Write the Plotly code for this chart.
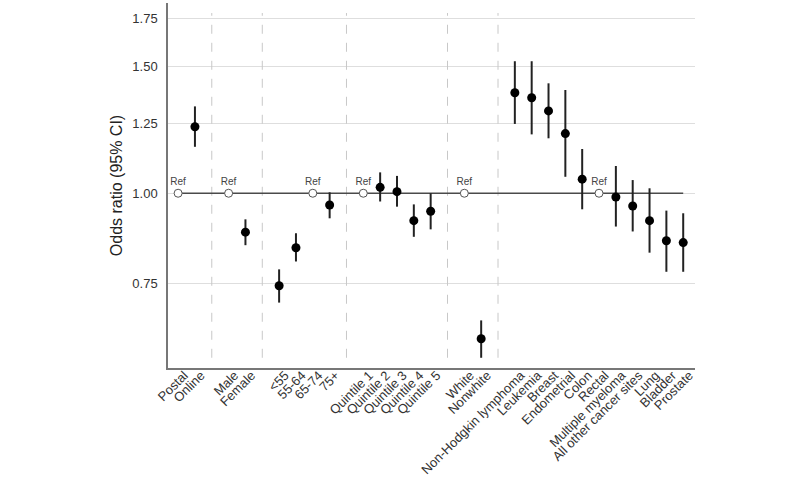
import plotly.graph_objects as go

# Groups of categories (a blank slot separates groups)
groups = [
    ["Postal", "Online"],
    ["Male", "Female"],
    ["<55", "55-64", "65-74", "75+"],
    ["Quintile 1", "Quintile 2", "Quintile 3", "Quintile 4", "Quintile 5"],
    ["White", "Nonwhite"],
    ["Non-Hodgkin lymphoma", "Leukemia", "Breast", "Endometrial", "Colon", "Rectal",
     "Multiple myeloma", "All other cancer sites", "Lung", "Bladder", "Prostate"],
]

ref_categories = ["Postal", "Male", "65-74", "Quintile 1", "White", "Rectal"]

or_categories = ["Online", "Female", "<55", "55-64", "75+",
                 "Quintile 2", "Quintile 3", "Quintile 4", "Quintile 5",
                 "Nonwhite",
                 "Non-Hodgkin lymphoma", "Leukemia", "Breast", "Endometrial", "Colon",
                 "Multiple myeloma", "All other cancer sites", "Lung", "Bladder", "Prostate"]
or_values = [1.237, 0.883, 0.744, 0.840, 0.963,
             1.019, 1.005, 0.916, 0.944,
             0.628,
             1.379, 1.357, 1.301, 1.210, 1.046,
             0.988, 0.960, 0.916, 0.859, 0.854]
ci_lower = [1.16, 0.847, 0.705, 0.804, 0.923,
            0.974, 0.958, 0.870, 0.891,
            0.591,
            1.248, 1.207, 1.192, 1.054, 0.950,
            0.899, 0.885, 0.827, 0.778, 0.778]
ci_upper = [1.32, 0.920, 0.784, 0.880, 1.003,
            1.069, 1.057, 0.965, 1.000,
            0.666,
            1.525, 1.525, 1.421, 1.391, 1.152,
            1.091, 1.043, 1.016, 0.946, 0.938]

y_ticks = [0.75, 1.00, 1.25, 1.50, 1.75]
y_tick_labels = ["0.75", "1.00", "1.25", "1.50", "1.75"]

# positions along x
pos = {}
separators = []
p = 0
for gi, g in enumerate(groups):
    if gi > 0:
        separators.append(p)
        p += 1
    for c in g:
        pos[c] = p
        p += 1
all_cats = [c for g in groups for c in g]
last_pos = p - 1

font_family = "Arial, 'Liberation Sans', sans-serif"

fig = go.Figure()

# separators
for s in separators:
    fig.add_trace(go.Scatter(x=[s, s], y=[0.591, 1.779], mode="lines",
                             line=dict(color="#c8c8c8", width=1, dash="dash"),
                             hoverinfo="skip", showlegend=False))

# reference line at 1
fig.add_trace(go.Scatter(x=[0, last_pos], y=[1, 1], mode="lines",
                         line=dict(color="#4a4a4a", width=1.5),
                         hoverinfo="skip", showlegend=False))

# reference markers
fig.add_trace(go.Scatter(
    x=[pos[c] for c in ref_categories], y=[1.0] * len(ref_categories),
    mode="markers+text", text=["Ref"] * len(ref_categories),
    textposition="top center", textfont=dict(size=10, color="#444", family=font_family),
    marker=dict(symbol="circle", size=8, color="white", line=dict(color="#555", width=1)),
    showlegend=False))

# odds ratios with CI
fig.add_trace(go.Scatter(
    x=[pos[c] for c in or_categories], y=or_values, mode="markers",
    marker=dict(color="black", size=9),
    error_y=dict(type="data", symmetric=False,
                 array=[u - v for u, v in zip(ci_upper, or_values)],
                 arrayminus=[v - l for v, l in zip(or_values, ci_lower)],
                 width=0, thickness=2, color="#222"),
    showlegend=False))

fig.update_layout(
    width=800, height=495,
    margin=dict(l=168, r=105, t=3, b=127, autoexpand=False),
    plot_bgcolor="white", paper_bgcolor="white",
    font=dict(family=font_family, color="#333"),
    hovermode=False,
    xaxis=dict(range=[-0.6, last_pos + 0.7], tickmode="array",
               tickvals=[pos[c] for c in all_cats], ticktext=all_cats,
               tickangle=-45, tickfont=dict(size=13, color="#333"),
               ticklabelstandoff=-7, ticklabelshift=6,
               showgrid=False, zeroline=False, showline=True, automargin=False,
               linecolor="#777", linewidth=1.5, ticks=""),
    yaxis=dict(type="log", range=[-0.2426, 0.2641], tickmode="array",
               tickvals=y_ticks, ticktext=y_tick_labels,
               tickfont=dict(size=13, color="#333"), automargin=False,
               ticklabelstandoff=6,
               showgrid=True, gridcolor="#dedede", gridwidth=1,
               zeroline=False, showline=True, linecolor="#777", linewidth=1.5,
               ticks="", title=dict(text="Odds ratio (95% CI)", font=dict(size=16, color="#222"),
                                   standoff=6)),
)

fig.write_html("out.html", config={"displayModeBar": False},
               post_script="document.body.style.margin='0';")
